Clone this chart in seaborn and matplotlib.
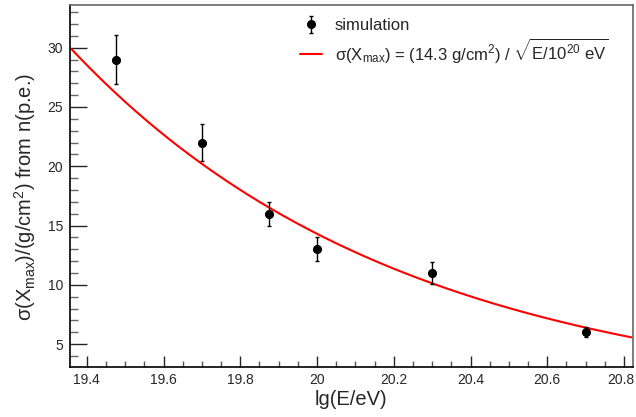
import numpy as np
import pandas as pd
import seaborn as sns
import matplotlib
matplotlib.use("Agg")
from matplotlib import pyplot as plt
from matplotlib import transforms
from matplotlib.ticker import MultipleLocator

# simulated points: lg(E/eV), sigma(Xmax) and error
lg_energy = [19.477, 19.70, 19.875, 20.00, 20.30, 20.70]
sigma_xmax = [29.0, 22.0, 16.0, 13.0, 11.0, 6.0]
sigma_err = [2.1, 1.6, 1.0, 1.0, 0.9, 0.4]

# parametrisation sigma = 14.3 / sqrt(E / 1e20 eV)
fit_norm = 14.3
fit_range = [19.36, 20.82]

sns.set_style("white")
plt.rcParams['font.family'] = ['Liberation Sans', 'DejaVu Sans']
plt.rcParams['mathtext.fontset'] = 'custom'
plt.rcParams['mathtext.rm'] = 'Liberation Sans'
plt.rcParams['mathtext.it'] = 'Liberation Sans'

df = pd.DataFrame({'lgE': lg_energy, 'sigma': sigma_xmax, 'err': sigma_err})
xf = np.linspace(fit_range[0], fit_range[1], 300)
curve = pd.DataFrame({'lgE': xf, 'sigma': fit_norm / np.sqrt(10 ** (xf - 20))})

fig = plt.figure(figsize=(6.36, 4.17), dpi=100)
ax = fig.add_axes([0.110, 0.120, 0.885, 0.868])

line_label = (r'$\sigma$(X$_{\rm max}$) = (14.3 g/cm$^2$) / '
              r'$\sqrt{\rm E/10^{20}\ eV}$')
sns.lineplot(data=curve, x='lgE', y='sigma', color='red', lw=1.5,
             ax=ax, label=line_label)
eb = ax.errorbar(df['lgE'], df['sigma'], yerr=df['err'], fmt='o',
                 color='black', ms=5.5, ecolor='black', elinewidth=1,
                 capsize=1.6, capthick=1)
sns.scatterplot(data=df, x='lgE', y='sigma', color='black', s=30,
                edgecolor='black', ax=ax, zorder=5, legend=False)

ax.set_xlim(19.356, 20.823)
ax.set_ylim(3.07, 33.6)
ax.xaxis.set_major_locator(MultipleLocator(0.2))
ax.xaxis.set_minor_locator(MultipleLocator(0.05))
ax.yaxis.set_major_locator(MultipleLocator(5))
ax.yaxis.set_minor_locator(MultipleLocator(1))
ax.set_xticks(np.arange(19.4, 20.81, 0.2))
ax.set_xticklabels(['19.4', '19.6', '19.8', '20', '20.2', '20.4', '20.6', '20.8'])
ax.tick_params(axis='x', which='major', direction='in', length=8, width=1,
               labelsize=10, pad=4, bottom=True)
ax.tick_params(axis='x', which='minor', direction='in', length=4, width=1,
               color='#555555', bottom=True)
ax.tick_params(axis='y', which='major', direction='in', length=12, width=1,
               labelsize=10, pad=5, left=True)
ax.tick_params(axis='y', which='minor', direction='in', length=6, width=1,
               color='#666666', left=True)

# keep the last x label inside the canvas
last = ax.get_xticklabels()[-1]
last.set_transform(last.get_transform() +
                   transforms.ScaledTranslation(-3 / 100, 0, fig.dpi_scale_trans))

for side in ['left', 'bottom']:
    ax.spines[side].set_color('black')
    ax.spines[side].set_linewidth(1.2)
for side in ['top', 'right']:
    ax.spines[side].set_color('#666666')
    ax.spines[side].set_linewidth(1.2)

ax.set_xlabel('lg(E/eV)', fontsize=14.5)
ax.xaxis.set_label_coords(0.5, -0.065)
ax.set_ylabel(r'$\sigma$(X$_{\rm max}$)/(g/cm$^2$) from n(p.e.)', fontsize=14.5)
ax.yaxis.set_label_coords(-0.057, 0.47)

handles, labels = ax.get_legend_handles_labels()
leg = ax.legend([eb, handles[0]], ['simulation', line_label], frameon=False,
                fontsize=12, loc='upper left', bbox_to_anchor=(0.382, 1.005),
                handlelength=1.3, handletextpad=0.8, labelspacing=0.15)

fig.savefig('out.png', dpi=100)
